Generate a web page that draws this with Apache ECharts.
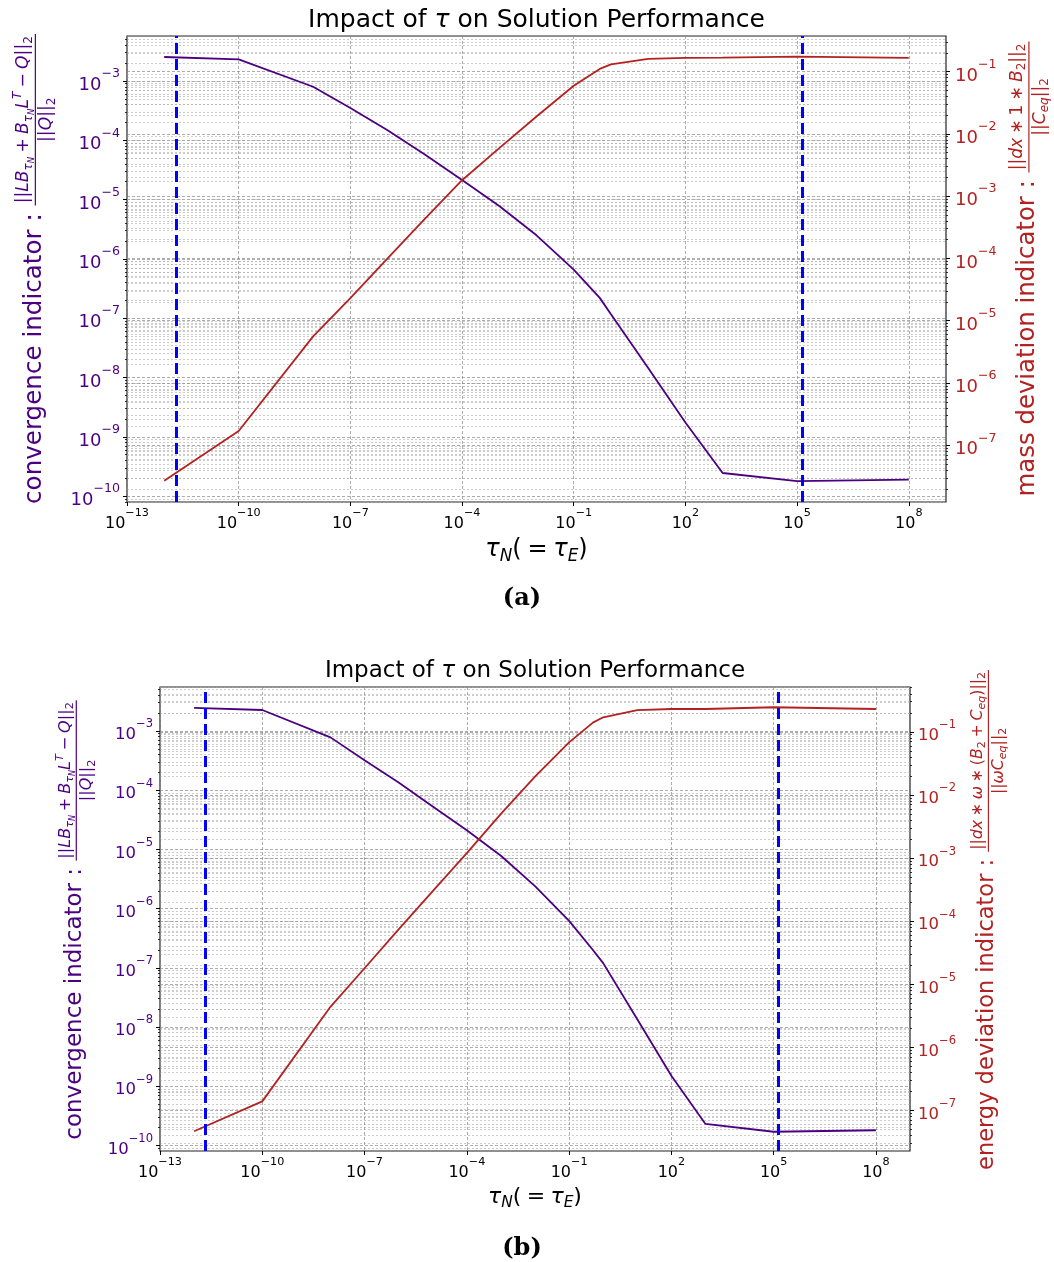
<!DOCTYPE html>
<html><head><meta charset="utf-8">
<script src="https://cdn.jsdelivr.net/npm/echarts@6/dist/echarts.min.js"></script>
<style>html,body{margin:0;padding:0;background:#fff}#c{width:1054px;height:1262px}</style>
</head><body><div id="c"></div>
<script>
// ---------------- data ----------------
const tau = [1e-12, 1e-10, 1e-8, 1e-7, 1e-6, 1e-5, 1e-4, 1e-3, 1e-2, 1e-1, 0.5, 1, 10, 100, 1000, 1e5, 1e8];
const convergenceA = [2.54e-3, 2.32e-3, 8.0e-4, 3.5e-4, 1.48e-4, 5.75e-5, 2.14e-5, 7.8e-6, 2.5e-6, 6.6e-7, 2.2e-7, 1.17e-7, 1.45e-8, 1.74e-9, 2.45e-10, 1.78e-10, 1.9e-10];
const massDeviationA = [2.7e-8, 1.7e-7, 5.6e-6, 2.3e-5, 1.0e-4, 4.3e-4, 1.8e-3, 5.9e-3, 1.9e-2, 5.9e-2, 1.1e-1, 1.3e-1, 1.6e-1, 1.65e-1, 1.67e-1, 1.73e-1, 1.65e-1];
const convergenceB = [2.45e-3, 2.26e-3, 7.8e-4, 3.2e-4, 1.35e-4, 5.3e-5, 2.1e-5, 7.8e-6, 2.4e-6, 6.2e-7, 2.0e-7, 1.2e-7, 1.35e-8, 1.5e-9, 2.3e-10, 1.7e-10, 1.8e-10];
const energyDeviationB = [4.7e-8, 1.4e-7, 4.4e-6, 1.8e-5, 7.4e-5, 3.0e-4, 1.2e-3, 5.0e-3, 1.95e-2, 6.8e-2, 1.4e-1, 1.7e-1, 2.2e-1, 2.3e-1, 2.3e-1, 2.45e-1, 2.3e-1];
const tauMarks = [2.15e-12, 1.35e5];           // blue dashed verticals
const xTickExp = [-13, -10, -7, -4, -1, 2, 5, 8];   // 10^n
const leftTickExp = [-10, -9, -8, -7, -6, -5, -4, -3];
const rightTickExp = [-7, -6, -5, -4, -3, -2, -1];

// ---------------- styling / layout ----------------
const INDIGO = '#4B0082', FIRE = '#B22222', BLUE = '#0000FF';
const FF = '"DejaVu Sans"';
const X_RANGE = [-13, 9];
const A = {grid: {left: 127, top: 36, width: 819, height: 466}, left: [-10.10, -2.241], right: [-7.91, -0.43]};
const B = {grid: {left: 160, top: 687, width: 750, height: 464}, left: [-10.095, -2.257], right: [-7.64, -0.29]};

const cv = document.createElement('canvas').getContext('2d');
function fnt(size, it, bold, fam) { return (it ? 'italic ' : '') + (bold ? 'bold ' : '') + size.toFixed(2) + 'px ' + (fam || FF); }
function mw(t, f) { cv.font = f; return cv.measureText(t).width; }
const MID = 0.32;
function rowW(pieces, S, fam, bold) {
  let x = 0;
  for (const p of pieces) { const s = S * (p.s || 1); x += (p.g || 0) * S + mw(p.t, fnt(s, p.i, bold, fam)) + (p.a || 0) * S; }
  return x;
}
function layRow(pieces, S, color, x0, b0, fam, bold) {
  let x = x0; const els = [];
  for (const p of pieces) {
    const s = S * (p.s || 1); const f = fnt(s, p.i, bold, fam);
    x += (p.g || 0) * S;
    els.push({type: 'text', x: x, y: b0 + (p.d || 0) * S - MID * s, silent: true,
      style: {text: p.t, font: f, fill: color, textAlign: 'left', textVerticalAlign: 'middle', verticalAlign: 'middle'}});
    x += mw(p.t, f) + (p.a || 0) * S;
  }
  return els;
}
function centeredRow(pieces, S, color, cx, b0, fam, bold) {
  const w = rowW(pieces, S, fam, bold);
  return {type: 'group', silent: true, children: layRow(pieces, S, color, cx - w / 2, b0, fam, bold)};
}
function yLabel(cx, cy, mainText, S, num, den, color) {
  const fs = S * 0.7;
  const mainW = mw(mainText, fnt(S));
  const nW = rowW(num, fs), dW = rowW(den, fs);
  const pad = 0.12 * fs;
  const fW = Math.max(nW, dW) + 2 * pad;
  const x0 = -(mainW + fW) / 2;
  const els = layRow([{t: mainText}], S, color, x0, 0);
  const fx = x0 + mainW;
  const barY = -0.27 * S;
  els.push({type: 'rect', silent: true, shape: {x: fx, y: barY - 0.6, width: fW, height: 1.2}, style: {fill: color}});
  els.push(...layRow(num, fs, color, fx + (fW - nW) / 2, barY - 0.36 * fs));
  els.push(...layRow(den, fs, color, fx + (fW - dW) / 2, barY + 0.98 * fs));
  return {type: 'group', x: cx, y: cy, rotation: Math.PI / 2, silent: true, children: els};
}
const SUB = 0.2, OP = 0.24;
const numConv = [{t: '||'}, {t: 'L', i: 1}, {t: 'B', i: 1}, {t: 'τ', i: 1, s: .7, d: SUB}, {t: 'N', i: 1, s: .5, d: .32},
  {t: '+', g: OP, a: OP}, {t: 'B', i: 1}, {t: 'τ', i: 1, s: .7, d: SUB}, {t: 'N', i: 1, s: .5, d: .32}, {t: 'L', i: 1},
  {t: 'T', i: 1, s: .7, d: -.42}, {t: '−', g: OP, a: OP}, {t: 'Q', i: 1}, {t: '||'}, {t: '2', s: .7, d: SUB}];
const denConv = [{t: '||'}, {t: 'Q', i: 1}, {t: '||'}, {t: '2', s: .7, d: SUB}];
const numMass = [{t: '||'}, {t: 'd', i: 1}, {t: 'x', i: 1}, {t: '∗', g: OP, a: OP}, {t: '1'}, {t: '∗', g: OP, a: OP},
  {t: 'B', i: 1}, {t: '2', s: .7, d: SUB}, {t: '||'}, {t: '2', s: .7, d: SUB}];
const denMass = [{t: '||'}, {t: 'C', i: 1}, {t: 'eq', i: 1, s: .7, d: SUB}, {t: '||'}, {t: '2', s: .7, d: SUB}];
const numEnergy = [{t: '||'}, {t: 'd', i: 1}, {t: 'x', i: 1}, {t: '∗', g: OP, a: OP}, {t: 'ω', i: 1}, {t: '∗', g: OP, a: OP},
  {t: '('}, {t: 'B', i: 1}, {t: '2', s: .7, d: SUB}, {t: '+', g: OP, a: OP}, {t: 'C', i: 1}, {t: 'eq', i: 1, s: .7, d: SUB},
  {t: ')'}, {t: '||'}, {t: '2', s: .7, d: SUB}];
const denEnergy = [{t: '||'}, {t: 'ω', i: 1}, {t: 'C', i: 1}, {t: 'eq', i: 1, s: .7, d: SUB}, {t: '||'}, {t: '2', s: .7, d: SUB}];
const xLab = [{t: 'τ', i: 1}, {t: 'N', i: 1, s: .7, d: SUB}, {t: '('}, {t: '=', g: OP, a: OP}, {t: 'τ', i: 1}, {t: 'E', i: 1, s: .7, d: SUB}, {t: ')'}];
const titleP = [{t: 'Impact of '}, {t: 'τ', i: 1}, {t: ' on Solution Performance'}];

function supLabel(v) { const e = Math.round(v); return '{b|10}{s|' + (e < 0 ? '−' + (-e) : e) + '}'; }
function richFor(size, color) {
  return {b: {fontSize: size, fontFamily: 'DejaVu Sans', color: color, lineHeight: Math.round(size * 1.5), verticalAlign: 'bottom'},
          s: {fontSize: size * 0.7, fontFamily: 'DejaVu Sans', color: color, lineHeight: Math.round(size * 0.7), verticalAlign: 'top'}};
}
function minorList(r) {
  const out = [];
  for (let n = Math.floor(r[0]); n <= Math.ceil(r[1]); n++) for (let m = 2; m <= 9; m++) { const v = n + Math.log10(m); if (v > r[0] && v < r[1]) out.push(v); }
  return out;
}
const majorGrid = {show: true, lineStyle: {color: '#8a8a8a', width: 0.7, type: [3, 2]}};
const minorGrid = {show: true, lineStyle: {color: '#ababab', width: 0.6, type: [2, 2]}};
const noLine = {show: false, onZero: false};
function xAxisCfg(gi) {
  return {type: 'value', gridIndex: gi, min: X_RANGE[0], max: X_RANGE[1], position: 'bottom',
    axisLine: noLine,
    axisTick: {show: true, customValues: xTickExp, length: 4, lineStyle: {color: '#000', width: 1}},
    axisLabel: {show: true, customValues: xTickExp, formatter: supLabel, rich: richFor(16, '#000'), margin: 6},
    splitLine: majorGrid};
}
function yMajor(gi, pos, range, ticks, color, size, margin) {
  return {type: 'value', gridIndex: gi, position: pos, min: range[0], max: range[1],
    axisLine: noLine,
    axisTick: {show: true, customValues: ticks, length: 4, lineStyle: {color: '#000', width: 1}},
    axisLabel: {show: true, customValues: ticks, formatter: supLabel, rich: richFor(size, color), margin: margin},
    splitLine: majorGrid};
}
function yMinor(gi, pos, range) {
  return {type: 'value', gridIndex: gi, position: pos, min: range[0], max: range[1],
    axisLine: noLine, axisLabel: {show: false},
    axisTick: {show: true, customValues: minorList(range), length: 2, lineStyle: {color: '#000', width: 0.8}},
    splitLine: minorGrid};
}
function pts(xs, ys) { return xs.map((x, i) => [Math.log10(x), Math.log10(ys[i])]); }
function lineSeries(xi, yi, data, color, z) {
  return {type: 'line', xAxisIndex: xi, yAxisIndex: yi, data: data, showSymbol: false, symbol: 'none', z: z,
    lineStyle: {color: color, width: 1.8}, itemStyle: {color: color}, emphasis: {disabled: true}};
}
function marks() {
  return {silent: true, symbol: ['none', 'none'], label: {show: false}, animation: false, emphasis: {disabled: true},
    lineStyle: {color: BLUE, width: 3, type: [11, 5]}, data: tauMarks.map(t => ({xAxis: Math.log10(t)}))};
}
const gridStyle = {show: true, borderColor: '#222', borderWidth: 1.2, backgroundColor: 'transparent', containLabel: false, outerBoundsMode: 'none'};

const sA1 = lineSeries(0, 0, pts(tau, convergenceA), INDIGO, 3); sA1.markLine = marks();
const sB1 = lineSeries(1, 4, pts(tau, convergenceB), INDIGO, 3); sB1.markLine = marks();

const option = {
  animation: false,
  backgroundColor: '#fff',
  grid: [Object.assign({}, gridStyle, A.grid), Object.assign({}, gridStyle, B.grid)],
  xAxis: [xAxisCfg(0), xAxisCfg(1)],
  yAxis: [
    yMajor(0, 'left', A.left, leftTickExp, INDIGO, 18, 7), yMinor(0, 'left', A.left),
    yMajor(0, 'right', A.right, rightTickExp, FIRE, 18, 9), yMinor(0, 'right', A.right),
    yMajor(1, 'left', B.left, leftTickExp, INDIGO, 16.5, 7), yMinor(1, 'left', B.left),
    yMajor(1, 'right', B.right, rightTickExp, FIRE, 16.5, 8), yMinor(1, 'right', B.right)
  ],
  series: [
    sA1, lineSeries(0, 2, pts(tau, massDeviationA), FIRE, 4),
    sB1, lineSeries(1, 6, pts(tau, energyDeviationB), FIRE, 4)
  ],
  graphic: {elements: [
    centeredRow(titleP, 25, '#000', 536.5, 28),
    centeredRow(titleP, 23, '#000', 535, 678),
    centeredRow(xLab, 24, '#000', 536.5, 557),
    centeredRow(xLab, 22, '#000', 535, 1204),
    centeredRow([{t: '(a)'}], 24, '#000', 522, 606, '"DejaVu Serif"', true),
    centeredRow([{t: '(b)'}], 24, '#000', 522, 1256, '"DejaVu Serif"', true),
    yLabel(42, 269, 'convergence indicator : ', 24.6, numConv, denConv, INDIGO),
    yLabel(1035.5, 269, 'mass deviation indicator : ', 24.4, numMass, denMass, FIRE),
    yLabel(82.5, 920, 'convergence indicator : ', 23, numConv, denConv, INDIGO),
    yLabel(994.5, 920, 'energy deviation indicator : ', 22.5, numEnergy, denEnergy, FIRE)
  ]}
};
const chart = echarts.init(document.getElementById('c'), null, {renderer: 'canvas', width: 1054, height: 1262});
chart.setOption(option);
</script></body></html>
